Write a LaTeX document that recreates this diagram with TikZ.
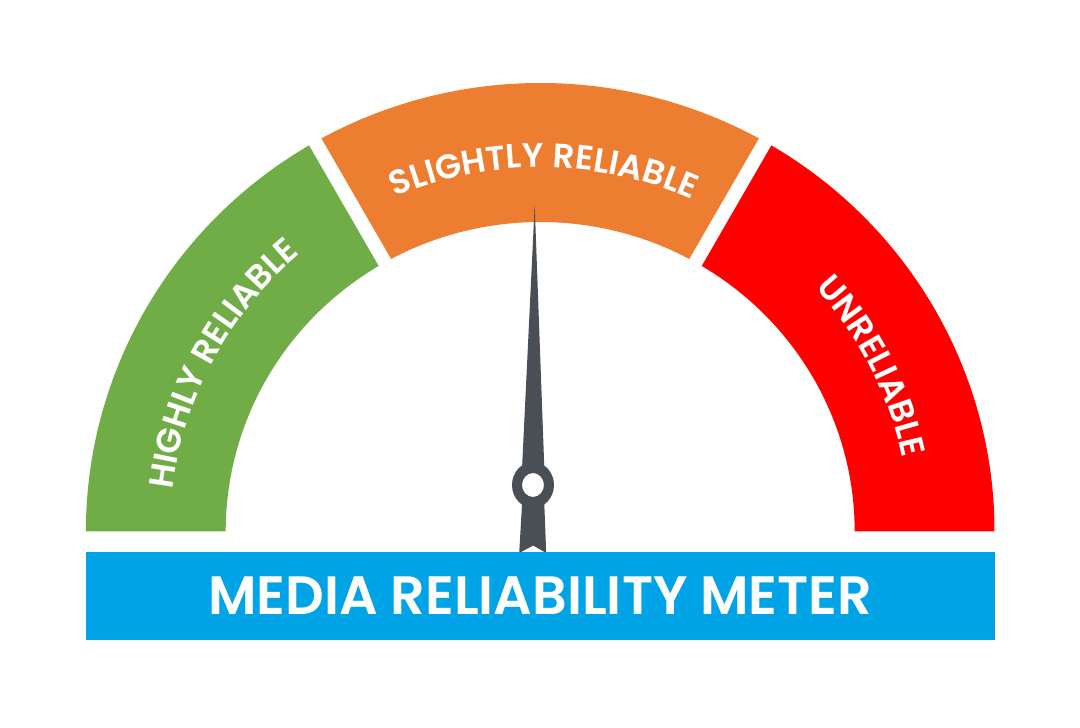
\documentclass[tikz,border=0pt]{standalone}
\usepackage{fontspec}
\newfontfamily\meterfont{Poppins SemiBold}
\usetikzlibrary{decorations.text}
\definecolor{goodgreen}{HTML}{70AD47}
\definecolor{midorange}{HTML}{ED7D31}
\definecolor{badred}{HTML}{FF0000}
\definecolor{barblue}{HTML}{00A3E6}
\definecolor{needlegray}{HTML}{4A4F55}
\tikzset{
  gapln/.style={white, line width=14pt},
  arclabel/.style={decorate, decoration={text along path, text align=center,
    text={|\meterfont\fontsize{34}{34}\selectfont\color{white}|#1}}},
  titlebar/.style={fill=barblue, minimum width=909pt, minimum height=88pt, inner sep=0pt},
}
\newcommand\gaugeband[3]{%
  \fill[#1] (#2:454.3pt and 448.5pt)
    arc[start angle=#2, end angle=#3, x radius=454.3pt, y radius=448.5pt]
    -- (#3:314.5pt and 309.5pt)
    arc[start angle=#3, end angle=#2, x radius=314.5pt, y radius=309.5pt] -- cycle;}
\begin{document}
\begin{tikzpicture}[x=1pt, y=1pt]
    \useasboundingbox (-540.2,-196.5) rectangle (539.8,531.5);
    % bands
    \gaugeband{badred}{0}{60}
    \gaugeband{midorange}{60}{120}
    \gaugeband{goodgreen}{120}{180}
    \draw[gapln] (0,0) -- (60:520pt);
    \draw[gapln] (0,0) -- (120:520pt);
    % labels along the bands
    \path[arclabel=HIGHLY RELIABLE] (192:370pt and 364pt)
      arc[start angle=192, end angle=112, x radius=370pt, y radius=364pt];
    \path[arclabel=SLIGHTLY RELIABLE] (129.4:370pt and 364pt)
      arc[start angle=129.4, end angle=49.4, x radius=370pt, y radius=364pt];
    \path[arclabel=UNRELIABLE] (66.7:370pt and 364pt)
      arc[start angle=66.7, end angle=-13.3, x radius=370pt, y radius=364pt];
    % needle
    \fill[needlegray] (-18,66.5) -- (-5.5,326.5) -- (4,66.5) -- cycle;
    \fill[needlegray, even odd rule] (-7.2,46.5) ellipse[x radius=21, y radius=23]
      (-7.2,46.5) ellipse[x radius=11, y radius=12];
    \fill[needlegray] (-18,30) -- (4,30) -- (6,-21.5) -- (-7,-14) -- (-21,-21.5) -- cycle;
    % title bar
    \node[titlebar] (bar) at (0.3,-64.5) {};
    \node[anchor=base, text=white, font=\meterfont\fontsize{54}{54}\selectfont] (title)
      at (0,-83.5) {MEDIA RELIABILITY METER};
\end{tikzpicture}
\end{document}
